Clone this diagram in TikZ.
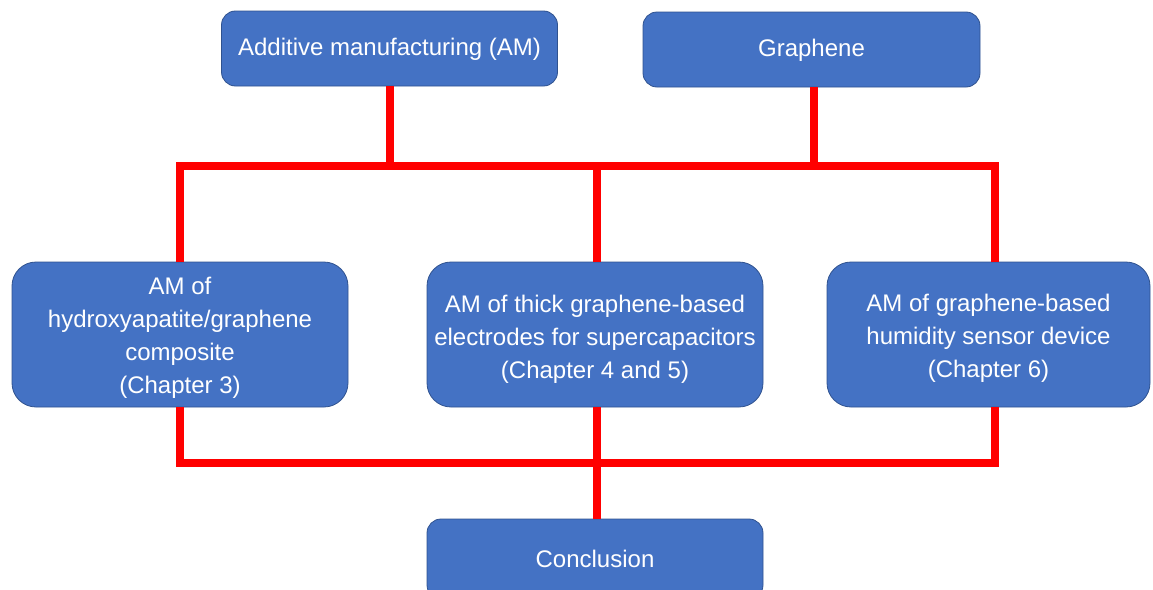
\documentclass[tikz,border=0pt]{standalone}
\usepackage{fontspec}
\setmainfont{Liberation Sans}
\definecolor{boxblue}{HTML}{4472C4}
\definecolor{boxedge}{HTML}{2F528F}
\definecolor{linkred}{HTML}{FF0000}
\begin{document}
\begin{tikzpicture}[x=1pt,y=-1pt,
  blk/.style={draw=boxedge, line width=0.8pt, fill=boxblue, rounded corners=#1, inner sep=0pt},
  blk/.default=14pt,
  txt/.style={text=white, font=\fontsize{24}{33}\selectfont, align=center, inner sep=0pt},
  link/.style={draw=linkred, line width=8.5pt}]
\useasboundingbox (0,0) rectangle (1153,589);
\begin{scope}
\clip (0,0) rectangle (1153,589);
\node[blk, minimum width=336pt, minimum height=75pt] (am) at (389.5,48.5) {};
\node[txt] (amt) at ([yshift=-1pt]am.center) {Additive manufacturing (AM)};
\node[blk, minimum width=337pt, minimum height=75pt] (gr) at (811.5,49.5) {};
\node[txt] (grt) at ([yshift=-1pt]gr.center) {Graphene};
\node[blk=24pt, minimum width=336pt, minimum height=145pt] (ha) at (180,334.5) {};
\node[txt] (hat) at ([yshift=-3pt]ha.center) {AM of\\hydroxyapatite/graphene\\composite\\(Chapter 3)};
\node[blk=24pt, minimum width=336pt, minimum height=145pt] (sc) at (595,334.5) {};
\node[txt] (sct) at ([yshift=-5pt]sc.center) {AM of thick graphene-based\\electrodes for supercapacitors\\(Chapter 4 and 5)};
\node[blk=24pt, minimum width=323pt, minimum height=145pt] (hs) at (988.5,334.5) {};
\node[txt] (hst) at ([yshift=-4pt]hs.center) {AM of graphene-based\\humidity sensor device\\(Chapter 6)};
\node[blk, minimum width=336pt, minimum height=80pt] (cc) at (595,559) {};
\node[txt] (cct) at ([yshift=0pt]cc.center) {Conclusion};
\coordinate (t1) at (180,166);
\coordinate (t2) at (995,166);
\coordinate (b1) at (180,463);
\coordinate (b2) at (995,463);
\draw[link] (am.south -| 390,0) -- (390,166);
\draw[link] (gr.south -| 814,0) -- (814,166);
\draw[link] ([yshift=-4.25pt]t1) -- (t1) -- (t2) -- ([yshift=-4.25pt]t2);
\draw[link] (t1) -- (ha.north);
\draw[link] (597,166) -- (sc.north -| 597,0);
\draw[link] (t2) -- (hs.north -| 995,0);
\draw[link] (ha.south) -- (b1);
\draw[link] (hs.south -| 995,0) -- (b2);
\draw[link] ([yshift=4.25pt]b1) -- (b1) -- (b2) -- ([yshift=4.25pt]b2);
\draw[link] (sc.south -| 597,0) -- (cc.north -| 597,0);
\end{scope}
\end{tikzpicture}
\end{document}
